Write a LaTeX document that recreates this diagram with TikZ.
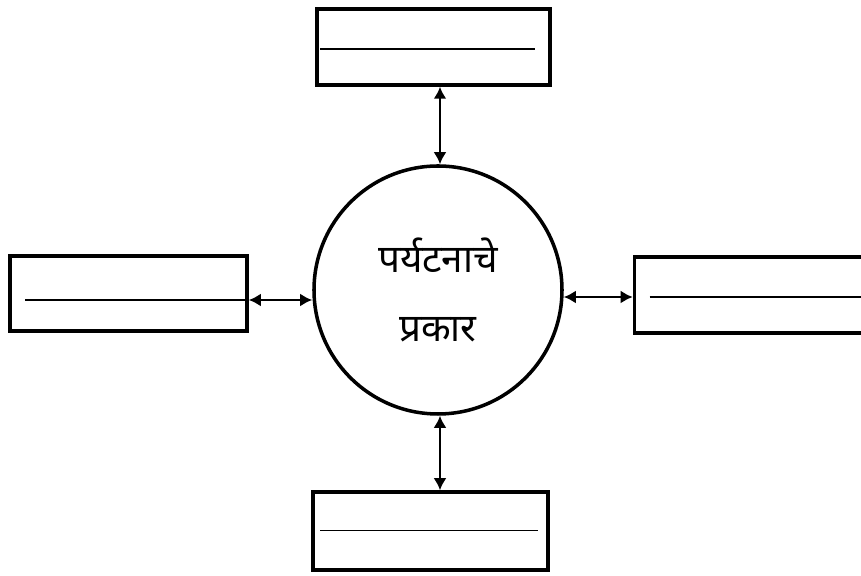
\documentclass[tikz,border=0pt]{standalone}
\usepackage{fontspec}
\newfontfamily\devfont[Script=Devanagari]{Noto Sans}
\usetikzlibrary{positioning}
\usetikzlibrary{arrows.meta}

\begin{document}
\begin{tikzpicture}[>={Latex[length=2.4mm,width=2.6mm]},
  box/.style={draw, line width=2pt, minimum width=4.7cm, minimum height=1.52cm},
  blank/.style={line width=1pt},
  link/.style={line width=1.6pt, <->}]
\path[use as bounding box, clip] (0,0) rectangle (17.22,11.52);

\node[circle, draw, line width=2pt, minimum size=4.96cm, align=center,
  font=\devfont\fontsize{22}{39}\selectfont] at (8.76,5.72) (types) {पर्यटनाचे\\प्रकार};

\node[box, minimum width=4.66cm] at (8.67,10.58) (top) {};
\node[box, minimum width=4.74cm, minimum height=1.5cm] at (2.57,5.65) (left) {};
\node[box] at (15.04,5.62) (right) {};
\node[box, minimum height=1.56cm] at (8.61,0.9) (bottom) {};

% lines to write on
\draw[blank] ([shift={(1mm,-0.4mm)}]top.west) -- ([shift={(-3.4mm,-0.4mm)}]top.east);
\draw[blank] ([shift={(3.4mm,-1.3mm)}]left.west) -- ([yshift=-1.3mm]left.east);
\draw[blank] ([shift={(3.4mm,-0.4mm)}]right.west) -- ([yshift=-0.4mm]right.east);
\draw[blank] ([shift={(1.8mm,0.1mm)}]bottom.west) -- ([shift={(-2.4mm,0.1mm)}]bottom.east);

\draw[link] ([xshift=0.4mm]types.north) -- ([xshift=0.4mm]types.north |- top.south);
\draw[link] ([xshift=0.4mm]types.south) -- ([xshift=0.4mm]types.south |- bottom.north);
\draw[link] ([yshift=-1.3mm]left.east) -- ([yshift=-1.3mm]left.east -| types.west);
\draw[link] ([yshift=-0.4mm]right.west) -- ([yshift=-0.4mm]right.west -| types.east);

\end{tikzpicture}
\end{document}
